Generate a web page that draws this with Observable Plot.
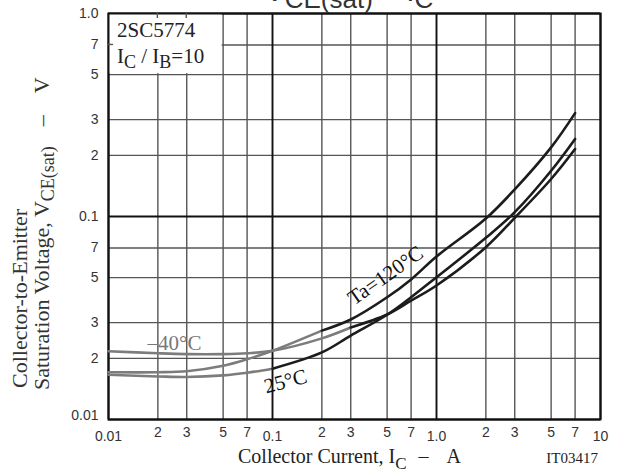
<!DOCTYPE html>
<html><head><meta charset="utf-8">
<script src="https://cdn.jsdelivr.net/npm/d3@7"></script>
<script src="https://cdn.jsdelivr.net/npm/@observablehq/plot@0.6"></script>
<style>
html,body{margin:0;padding:0;background:#fff;overflow:hidden;}
#chart{position:relative;width:621px;height:474px;}
</style></head><body><div id="chart"></div>
<script>
// Collector current (A)
const currents = [0.01,0.02,0.03,0.05,0.07,0.1,0.2,0.3,0.5,0.7,1,2,3,5,7];
// VCE(sat) (V) per ambient temperature
const vsatM40 = [0.0217,0.0212,0.0210,0.0210,0.0212,0.0218,0.0251,0.0284,0.0329,0.0385,0.0457,0.0706,0.0985,0.153,0.215];
const vsat25  = [0.0166,0.0163,0.0162,0.0165,0.0170,0.0178,0.0214,0.0259,0.0328,0.0400,0.0502,0.0785,0.105,0.168,0.241];
const vsat120 = [0.0171,0.0171,0.0173,0.0184,0.0198,0.0218,0.0274,0.0311,0.0400,0.0490,0.0635,0.0977,0.136,0.219,0.323];
const seriesNames = ["-40", "25", "120"];
// scanned curves appear gray at low current up to this current, black beyond
const grayUntil = [0.3, 0.1, 0.2];

const xTicks = [0.01,0.02,0.03,0.05,0.07,0.1,0.2,0.3,0.5,0.7,1,2,3,5,7,10];
const xTickLabels = ["0.01","2","3","5","7","0.1","2","3","5","7","1.0","2","3","5","7","10"];
const yTicks = [0.01,0.02,0.03,0.05,0.07,0.1,0.2,0.3,0.5,0.7,1];
const yTickLabels = ["0.01","2","3","5","7","0.1","2","3","5","7","1.0"];
const decades = [0.01,0.1,1,10];

const isDecade = v => decades.some(d => Math.abs(d - v) < 1e-9);
const seriesValues = [vsatM40, vsat25, vsat120];
const rows = [];
seriesValues.forEach((vals, s) => {
  currents.forEach((c, i) => {
    if (c <= grayUntil[s] + 1e-9) rows.push({I: c, V: vals[i], key: seriesNames[s] + "g", color: "#7c7c7c"});
    if (c >= grayUntil[s] - 1e-9) rows.push({I: c, V: vals[i], key: seriesNames[s] + "k", color: "#1c1c1c"});
  });
});
const xLab = new Map(xTicks.map((v, i) => [v, xTickLabels[i]]));
const yLab = new Map(yTicks.map((v, i) => [v, yTickLabels[i]]));
const minorX = xTicks.filter(v => !isDecade(v));
const minorY = yTicks.filter(v => !isDecade(v));
const decX = xTicks.filter(isDecade);
const decY = yTicks.filter(isDecade);
const serif = "'Liberation Serif','Times New Roman',serif";
const sans = "'Liberation Sans',Arial,sans-serif";

const plot = Plot.plot({
  width: 621, height: 474,
  marginLeft: 108, marginRight: 21, marginTop: 13, marginBottom: 55,
  x: {type: "log", domain: [0.01, 10], axis: null},
  y: {type: "log", domain: [0.01, 1], axis: null},
  style: {background: "white", fontFamily: sans, overflow: "hidden"},
  marks: [
    Plot.ruleX(minorX, {stroke: "#555", strokeWidth: 1.4}),
    Plot.ruleY(minorY, {stroke: "#555", strokeWidth: 1.4}),
    Plot.ruleX(decX, {stroke: "#111", strokeWidth: 1.9}),
    Plot.ruleY(decY, {stroke: "#111", strokeWidth: 1.9}),
    Plot.rect([{}], {x1: 0.01, x2: 0.05, y1: 0.5, y2: 1, fill: "white", insetRight: 1, insetBottom: 1}),
    Plot.frame({stroke: "#111", strokeWidth: 2}),
    Plot.line(rows, {x: "I", y: "V", z: "key", stroke: "color", strokeWidth: 2.6, curve: "catmull-rom"}),
    // x tick labels
    Plot.text(minorX, {x: d => d, frameAnchor: "bottom", text: d => xLab.get(d), dy: 17, fontSize: 14, fill: "#333"}),
    Plot.text(decX, {x: d => d, frameAnchor: "bottom", text: d => xLab.get(d), dy: 21, fontSize: 14, fill: "#333"}),
    // y tick labels
    Plot.text(minorY, {y: d => d, frameAnchor: "left", text: d => yLab.get(d), dx: -10, textAnchor: "end", fontSize: 14, fill: "#333"}),
    Plot.text([0.1, 1], {y: d => d, frameAnchor: "left", text: d => yLab.get(d), dx: -10, textAnchor: "end", fontSize: 14, fill: "#333"}),
    Plot.text([0.01], {y: d => d, frameAnchor: "left", text: d => yLab.get(d), dx: -10, dy: -4, textAnchor: "end", fontSize: 14, fill: "#333"}),
    // curve labels
    Plot.text([{}], {x: 0.0173, y: 0.0221, text: ["–40°C"], textAnchor: "start", lineAnchor: "bottom", fontFamily: serif, fontSize: 21, fill: "#777"}),
    Plot.text([{}], {x: 0.120, y: 0.0154, text: ["25°C"], rotate: -15, fontFamily: serif, fontSize: 21, fill: "#111"}),
    Plot.text([{}], {x: 0.489, y: 0.0512, text: ["Ta=120°C"], rotate: -35, fontFamily: serif, fontSize: 21, fill: "#111"})
  ]
});
document.getElementById("chart").appendChild(plot);

const svg = d3.select(plot);
const xs = plot.scale("x"), ys = plot.scale("y");
// small ticks left inside the legend box
const tg = svg.append("g").attr("stroke", "#555").attr("stroke-width", 1.4);
[0.02, 0.03].forEach(v => tg.append("line").attr("x1", xs.apply(v)).attr("x2", xs.apply(v)).attr("y1", ys.apply(1)).attr("y2", ys.apply(1) + 5));
[0.7].forEach(v => tg.append("line").attr("y1", ys.apply(v)).attr("y2", ys.apply(v)).attr("x1", xs.apply(0.01)).attr("x2", xs.apply(0.01) + 5));

// legend box text
const lb = svg.append("g").attr("font-family", serif).attr("font-size", 21).attr("fill", "#222").attr("text-anchor", "start");
lb.append("text").attr("x", 117).attr("y", 37).text("2SC5774");
const t2 = lb.append("text").attr("x", 117).attr("y", 63);
t2.append("tspan").text("I");
t2.append("tspan").attr("dy", 5).attr("font-size", 18).text("C");
t2.append("tspan").attr("dy", -5).text(" / I");
t2.append("tspan").attr("dy", 5).attr("font-size", 18).text("B");
t2.append("tspan").attr("dy", -5).text("=10");

// chart title (top partly outside the picture)
const tt = svg.append("text").attr("x", 349).attr("y", 1).attr("text-anchor", "middle")
  .attr("font-family", sans).attr("font-size", 30).attr("fill", "#333");
tt.append("tspan").text("V");
tt.append("tspan").attr("dy", 7).attr("font-size", 26).text("CE(sat)");
tt.append("tspan").attr("dy", -7).text(" – I");
tt.append("tspan").attr("dy", 7).attr("font-size", 26).text("C");

// x axis title
const xt = svg.append("text").attr("x", 238).attr("y", 463).attr("text-anchor", "start")
  .attr("font-family", serif).attr("font-size", 20).attr("fill", "#222");
xt.append("tspan").text("Collector Current, I");
xt.append("tspan").attr("dy", 6).attr("font-size", 17).text("C");
xt.append("tspan").attr("dy", -6).attr("dx", 12).text("–");
xt.append("tspan").attr("dx", 18).text("A");
svg.append("text").attr("x", 598).attr("y", 463).attr("text-anchor", "end")
  .attr("font-family", serif).attr("font-size", 15).attr("fill", "#222").text("IT03417");

// y axis title (two lines)
svg.append("text").attr("transform", "translate(27,388) rotate(-90)").attr("text-anchor", "start")
  .attr("font-family", serif).attr("font-size", 22).attr("fill", "#333").text("Collector-to-Emitter");
const y2 = svg.append("text").attr("transform", "translate(49,390) rotate(-90)").attr("text-anchor", "start")
  .attr("font-family", serif).attr("font-size", 22).attr("fill", "#333");
y2.append("tspan").text("Saturation Voltage, V");
y2.append("tspan").attr("dy", 5).attr("font-size", 18).text("CE(sat)");
y2.append("tspan").attr("dy", -5).attr("dx", 20).text("–");
y2.append("tspan").attr("dx", 22).text("V");
</script></body></html>
